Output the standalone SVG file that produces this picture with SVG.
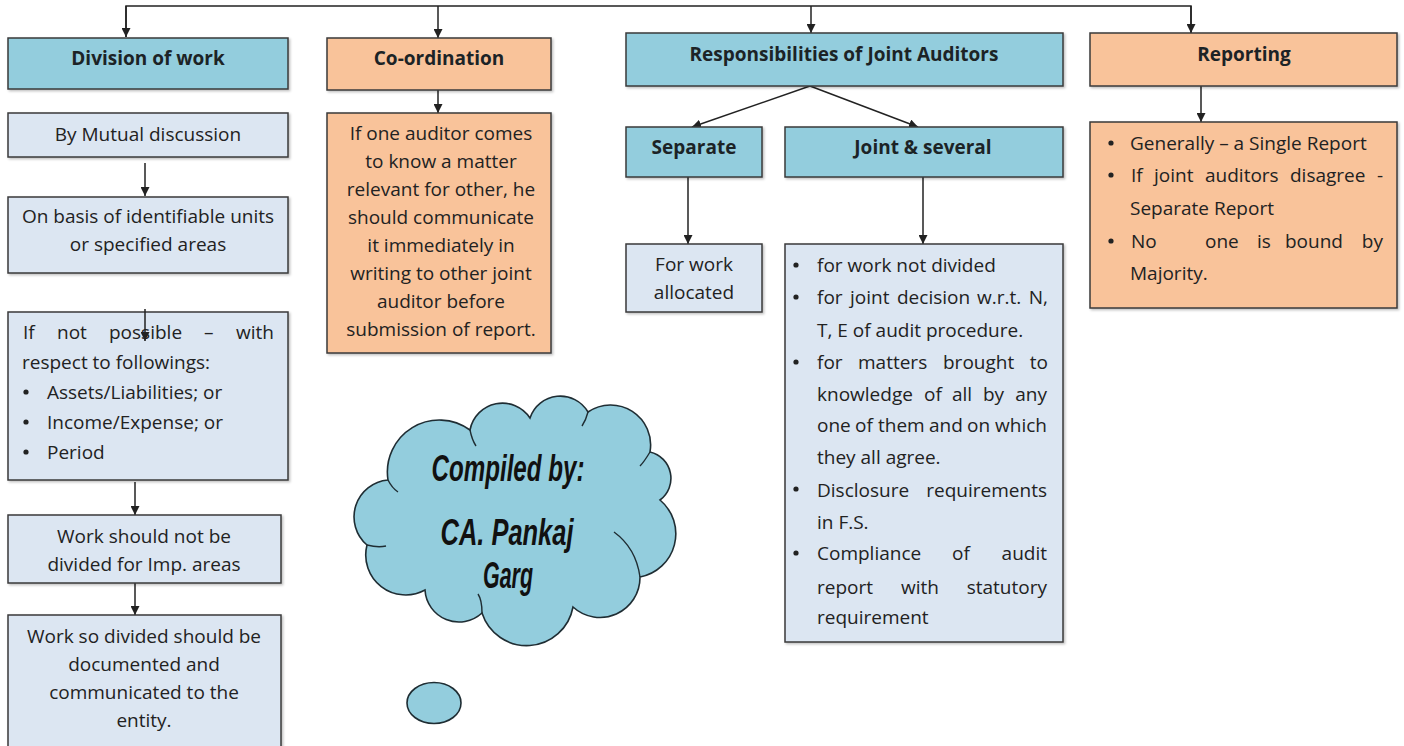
<svg xmlns="http://www.w3.org/2000/svg" width="1404" height="746" viewBox="0 0 1404 746">
  <style>
    .box { stroke: #3a3a3a; stroke-width: 1.5; }
    .teal { fill: #93cddd; }
    .orange { fill: #f9c39a; }
    .pale { fill: #dce6f2; }
    .head { font-family: "Open Sans", "Liberation Sans", sans-serif; font-weight: bold; font-size: 19px; fill: #1c2326; text-anchor: middle; }
    .body { font-family: "Open Sans", "Liberation Sans", sans-serif; font-size: 19px; fill: #222; }
    .c { text-anchor: middle; }
    .e { text-anchor: end; }
    .link { fill: none; stroke: #222; stroke-width: 1.5; }
    .cloudtxt { font-family: "Liberation Sans", Arial, sans-serif; font-weight: bold; font-style: italic; font-size: 36px; fill: #111; text-anchor: middle; }
    .dot { fill: #222; }
  </style>
  <defs>
    <marker id="arrow" viewBox="0 0 10 10" refX="10" refY="5" markerWidth="9" markerHeight="9" markerUnits="userSpaceOnUse" orient="auto">
      <path d="M0,0 L10,5 L0,10 z" fill="#222"/>
    </marker>
    <filter id="shadow" x="-5%" y="-5%" width="110%" height="115%">
      <feDropShadow dx="1.5" dy="1.5" stdDeviation="1" flood-color="#000" flood-opacity="0.25"/>
    </filter>
  </defs>
  <rect width="1404" height="746" fill="#ffffff"/>

  <!-- connectors -->
  <g id="connectors">
    <path class="link" d="M126,37 V6 H1191 V33"/>
    <path class="link" d="M126,6 V37" marker-end="url(#arrow)"/>
    <path class="link" d="M1191,6 V33" marker-end="url(#arrow)"/>
    <path class="link" d="M438,6 V38" marker-end="url(#arrow)"/>
    <path class="link" d="M811,6 V33" marker-end="url(#arrow)"/>
    <path class="link" d="M438,90 V113" marker-end="url(#arrow)"/>
    <path class="link" d="M145,163 V196" marker-end="url(#arrow)"/>
    <path class="link" d="M135,482 V515" marker-end="url(#arrow)"/>
    <path class="link" d="M135,583 V615" marker-end="url(#arrow)"/>
    <path class="link" d="M810,86 L692,127" marker-end="url(#arrow)"/>
    <path class="link" d="M810,86 L918,127" marker-end="url(#arrow)"/>
    <path class="link" d="M688,177 V244" marker-end="url(#arrow)"/>
    <path class="link" d="M923,177 V244" marker-end="url(#arrow)"/>
    <path class="link" d="M1201,86 V122" marker-end="url(#arrow)"/>
  </g>

  <!-- Division of work column -->
  <g id="division-of-work">
    <rect class="box teal" x="8" y="38" width="280" height="51" filter="url(#shadow)"/>
    <text class="head" x="148" y="65">Division of work</text>
  </g>
  <g id="mutual-discussion">
    <rect class="box pale" x="8" y="113" width="280" height="44" filter="url(#shadow)"/>
    <text class="body c" x="148" y="141">By Mutual discussion</text>
  </g>
  <g id="identifiable-units">
    <rect class="box pale" x="8" y="197" width="280" height="76" filter="url(#shadow)"/>
    <text class="body c" x="148" y="223">On basis of identifiable units</text>
    <text class="body c" x="148" y="251">or specified areas</text>
  </g>
  <g id="if-not-possible">
    <rect class="box pale" x="8" y="312" width="280" height="168" filter="url(#shadow)"/>
    <text class="body" y="339"><tspan x="23">If</tspan><tspan x="57">not</tspan><tspan x="109">possible</tspan><tspan x="204">–</tspan><tspan x="274" class="e">with</tspan></text>
    <text class="body" x="22" y="369">respect to followings:</text>
    <circle class="dot" cx="26" cy="392" r="2.6"/>
    <text class="body" x="47" y="399">Assets/Liabilities; or</text>
    <circle class="dot" cx="26" cy="422" r="2.6"/>
    <text class="body" x="47" y="429">Income/Expense; or</text>
    <circle class="dot" cx="26" cy="452" r="2.6"/>
    <text class="body" x="47" y="459">Period</text>
  </g>
  <path class="link" d="M145,309 V341" marker-end="url(#arrow)"/>
  <g id="not-divided-imp">
    <rect class="box pale" x="8" y="515" width="273" height="68" filter="url(#shadow)"/>
    <text class="body c" x="144" y="543">Work should not be</text>
    <text class="body c" x="144" y="571">divided for Imp. areas</text>
  </g>
  <g id="documented">
    <rect class="box pale" x="8" y="615" width="273" height="140" filter="url(#shadow)"/>
    <text class="body c" x="144" y="643">Work so divided should be</text>
    <text class="body c" x="144" y="671">documented and</text>
    <text class="body c" x="144" y="699">communicated to the</text>
    <text class="body c" x="144" y="727">entity.</text>
  </g>

  <!-- Co-ordination column -->
  <g id="co-ordination">
    <rect class="box orange" x="327" y="38" width="224" height="52" filter="url(#shadow)"/>
    <text class="head" x="439" y="65">Co-ordination</text>
  </g>
  <g id="co-ordination-detail">
    <rect class="box orange" x="327" y="113" width="224" height="240" filter="url(#shadow)"/>
    <text class="body c" x="441" y="140">If one auditor comes</text>
    <text class="body c" x="441" y="168">to know a matter</text>
    <text class="body c" x="441" y="196">relevant for other, he</text>
    <text class="body c" x="441" y="224">should communicate</text>
    <text class="body c" x="441" y="252">it immediately in</text>
    <text class="body c" x="441" y="280">writing to other joint</text>
    <text class="body c" x="441" y="308">auditor before</text>
    <text class="body c" x="441" y="336">submission of report.</text>
  </g>

  <!-- Responsibilities column -->
  <g id="responsibilities">
    <rect class="box teal" x="626" y="33" width="437" height="53" filter="url(#shadow)"/>
    <text class="head" x="844" y="61">Responsibilities of Joint Auditors</text>
  </g>
  <g id="separate">
    <rect class="box teal" x="626" y="127" width="136" height="50" filter="url(#shadow)"/>
    <text class="head" x="694" y="154">Separate</text>
  </g>
  <g id="joint-several">
    <rect class="box teal" x="785" y="127" width="278" height="50" filter="url(#shadow)"/>
    <text class="head" x="923" y="154">Joint &amp; several</text>
  </g>
  <g id="work-allocated">
    <rect class="box pale" x="626" y="244" width="136" height="68" filter="url(#shadow)"/>
    <text class="body c" x="694" y="271">For work</text>
    <text class="body c" x="694" y="299">allocated</text>
  </g>
  <g id="joint-detail">
    <rect class="box pale" x="785" y="244" width="278" height="398" filter="url(#shadow)"/>
    <circle class="dot" cx="796" cy="265" r="2.6"/>
    <text class="body" x="817" y="272">for work not divided</text>
    <circle class="dot" cx="796" cy="297" r="2.6"/>
    <text class="body" y="304"><tspan x="817">for</tspan><tspan x="850">joint</tspan><tspan x="897">decision</tspan><tspan x="977">w.r.t.</tspan><tspan x="1048" class="e">N,</tspan></text>
    <text class="body" x="817" y="337">T, E of audit procedure.</text>
    <circle class="dot" cx="796" cy="362" r="2.6"/>
    <text class="body" y="369"><tspan x="817">for</tspan><tspan x="858">matters</tspan><tspan x="943">brought</tspan><tspan x="1048" class="e">to</tspan></text>
    <text class="body" y="401"><tspan x="817">knowledge</tspan><tspan x="924">of</tspan><tspan x="952">all</tspan><tspan x="983">by</tspan><tspan x="1047" class="e">any</tspan></text>
    <text class="body" y="432"><tspan x="817">one</tspan><tspan x="855">of</tspan><tspan x="878">them</tspan><tspan x="929">and</tspan><tspan x="967">on</tspan><tspan x="1047" class="e">which</tspan></text>
    <text class="body" x="817" y="464">they all agree.</text>
    <circle class="dot" cx="796" cy="489" r="2.6"/>
    <text class="body" y="497"><tspan x="817">Disclosure</tspan><tspan x="1047" class="e">requirements</tspan></text>
    <text class="body" x="817" y="529">in F.S.</text>
    <circle class="dot" cx="796" cy="553" r="2.6"/>
    <text class="body" y="560"><tspan x="817">Compliance</tspan><tspan x="952">of</tspan><tspan x="1047" class="e">audit</tspan></text>
    <text class="body" y="594"><tspan x="817">report</tspan><tspan x="901">with</tspan><tspan x="1047" class="e">statutory</tspan></text>
    <text class="body" x="817" y="624">requirement</text>
  </g>

  <!-- Reporting column -->
  <g id="reporting">
    <rect class="box orange" x="1090" y="33" width="307" height="53" filter="url(#shadow)"/>
    <text class="head" x="1244" y="61">Reporting</text>
  </g>
  <g id="reporting-detail">
    <rect class="box orange" x="1090" y="122" width="307" height="186" filter="url(#shadow)"/>
    <circle class="dot" cx="1111" cy="143" r="2.6"/>
    <text class="body" x="1130" y="150">Generally – a Single Report</text>
    <circle class="dot" cx="1111" cy="175" r="2.6"/>
    <text class="body" y="182"><tspan x="1131">If</tspan><tspan x="1154">joint</tspan><tspan x="1205">auditors</tspan><tspan x="1290">disagree</tspan><tspan x="1383" class="e">-</tspan></text>
    <text class="body" x="1130" y="215">Separate Report</text>
    <circle class="dot" cx="1111" cy="241" r="2.6"/>
    <text class="body" y="248"><tspan x="1131">No</tspan><tspan x="1205">one</tspan><tspan x="1257">is</tspan><tspan x="1285">bound</tspan><tspan x="1383" class="e">by</tspan></text>
    <text class="body" x="1130" y="280">Majority.</text>
  </g>

  <!-- thought cloud -->
  <g id="compiled-by">
    <path d="M367,545 A37,37 0 0 1 388,480 A52,52 0 0 1 470,430 A33,33 0 0 1 530,418 A32,32 0 0 1 588,412 A40,40 0 0 1 650,452 A27,27 0 0 1 660,500 A44,44 0 0 1 640,577 A40,40 0 0 1 573,607 A47,47 0 0 1 482,613 A34,34 0 0 1 425,590 A40,40 0 0 1 367,545 Z" fill="#93cddd" stroke="#1f2d33" stroke-width="1.6"/>
    <g fill="none" stroke="#1f2d33" stroke-width="1.4">
      <path d="M388,480 Q392,488 398,492"/>
      <path d="M470,430 Q472,440 476,446"/>
      <path d="M588,412 Q586,420 582,426"/>
      <path d="M650,452 Q644,462 640,466"/>
      <path d="M640,577 Q636,548 614,532"/>
      <path d="M482,613 Q482,600 478,594"/>
      <path d="M367,545 Q378,548 386,546"/>
    </g>
    <text class="cloudtxt" x="508" y="481" textLength="153" lengthAdjust="spacingAndGlyphs">Compiled by:</text>
    <text class="cloudtxt" x="507" y="545" textLength="133" lengthAdjust="spacingAndGlyphs">CA. Pankaj</text>
    <text class="cloudtxt" x="508" y="588" textLength="50" lengthAdjust="spacingAndGlyphs">Garg</text>
  </g>
  <g id="thought-bubble">
    <ellipse cx="434" cy="703" rx="27" ry="20.5" fill="#93cddd" stroke="#1f2d33" stroke-width="1.6"/>
  </g>
</svg>
